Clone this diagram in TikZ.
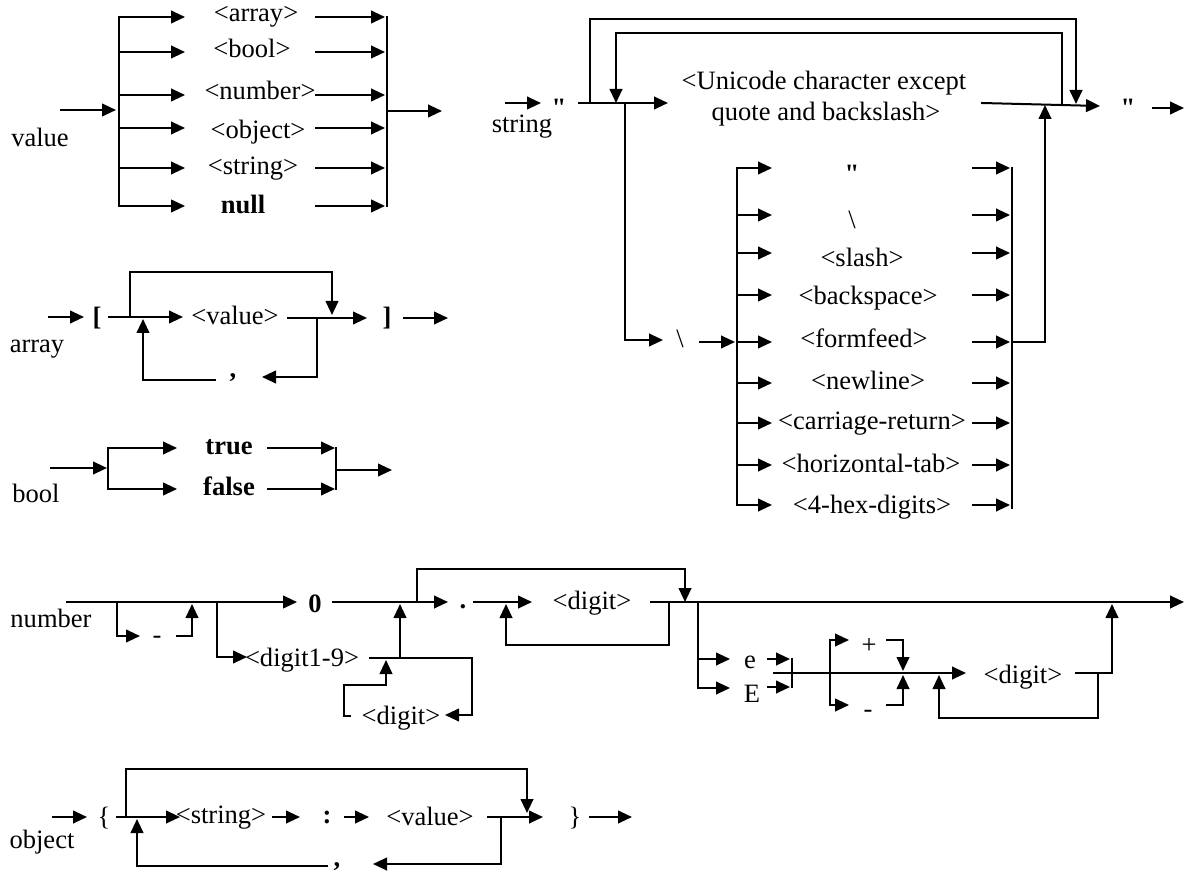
\documentclass[tikz,border=0pt]{standalone}
\usepackage{fontspec}
\setmainfont{Liberation Serif}
\newfontfamily\qfont{Liberation Serif}[Ligatures=TeXOff]
\newcommand{\dq}{{\qfont\bfseries\symbol{34}}}
\usetikzlibrary{arrows.meta}
\begin{document}
\begin{tikzpicture}[x=0.75pt,y=-0.75pt,
  line width=1.5pt, line cap=rect,
  ar/.style={-{Triangle[length=10.5pt,width=9.5pt]}},
  t/.style={anchor=base, inner sep=0pt, font=\fontsize{19.9}{23}\selectfont},
  tb/.style={anchor=base, inner sep=0pt, font=\fontsize{19.9}{23}\selectfont\bfseries}]
\useasboundingbox (0,0) rectangle (1185,880);

% ---------------- value ----------------
\node[t] (vlab) at (40,147) {value};
\draw[ar] (61,110) -- (116,110);
\draw (119,17) -- (119,206);
\draw (387,17) -- (387,206);
\foreach \y/\b/\x/\txt/\nm in {17/22/256/{<array>}/va, 52/58/252/{<bool>}/vb, 95/100/260/{<number>}/vn, 128/139/258/{<object>}/vo, 168/175/253/{<string>}/vs}{
  \draw[ar] (119,\y) -- (185,\y);
  \node[t] (\nm) at (\x,\b) {\txt};
  \draw[ar] (316,\y) -- (385,\y);
}
\draw[ar] (119,206) -- (185,206);
\node[tb] (vnull) at (243,214) {null};
\draw[ar] (316,206) -- (385,206);
\draw[ar] (387,111) -- (442,111);

% ---------------- array ----------------
\node[t] (alab) at (37,353) {array};
\draw[ar] (49,317) -- (84,317);
\node[tb] (aopen) at (97,326) {[};
\draw[ar] (109,317) -- (183,317);
\draw[ar] (130,317) |- (332,272) -- (332,315);
\node[t] (aval) at (235,325) {<value>};
\draw[ar] (288,318) -- (367,318);
\node[tb] (aclose) at (387,326) {]};
\draw[ar] (404,318) -- (448,318);
\draw[ar] (317,318) |- (262,377);
\node[tb] (acomma) at (233,378) {,};
\draw[ar] (215,380) -| (143,319);

% ---------------- bool ----------------
\node[t] (blab) at (36,502) {bool};
\draw[ar] (51,468) -- (107,468);
\draw (108,448) -- (108,489);
\draw[ar] (108,448) -- (177,448);
\draw[ar] (108,489) -- (177,489);
\node[tb] (btrue) at (229,455) {true};
\node[tb] (bfalse) at (229,495) {false};
\draw[ar] (268,448) -- (335,448);
\draw[ar] (268,489) -- (335,489);
\draw (336,448) -- (336,489);
\draw[ar] (336,470) -- (392,470);

% ---------------- string ----------------
\node[t] (slab) at (522,133) {string};
\draw[ar] (506,103) -- (541,103);
\node[t] (sq1) at (559,117) {\dq};
\draw[ar] (579,103) -- (668,103);
\draw[ar] (590,103) |- (1076,19) -- (1076,104);
\draw[ar] (1062,104) |- (616,33) -- (616,103);
\node[t] (su1) at (824,90) {<Unicode character except};
\node[t] (su2) at (826,121) {quote and backslash>};
\draw[ar] (982,103) -- (1100,106);
\node[t] (sq2) at (1128,117) {\dq};
\draw[ar] (1153,108) -- (1184,108);
\draw[ar] (625,103) |- (663,340);
\node[t] (sbs) at (680,348) {\textbackslash};
\draw[ar] (700,342) -- (735,342);
\draw (737,168) -- (737,505);
\draw (1012,168) -- (1012,508);
\foreach \y/\b/\x/\txt/\nm in {
  168/183/852/{\dq}/e1,
  215/229/852/{\textbackslash}/e2,
  253/267/862/{<slash>}/e3,
  295/305/868/{<backspace>}/e4,
  342/348/864/{<formfeed>}/e5,
  383/390/868/{<newline>}/e6,
  423/430/872/{<carriage-return>}/e7,
  465/472/871/{<horizontal-tab>}/e8,
  505/513/872/{<4-hex-digits>}/e9}{
  \draw[ar] (737,\y) -- (772,\y);
  \node[t] (\nm) at (\x,\b) {\txt};
  \draw[ar] (973,\y) -- (1010,\y);
}
\draw[ar] (1012,342) -| (1045,105);

% ---------------- number ----------------
\node[t] (nlab) at (51,627) {number};
\draw[ar] (67,602) -- (297,602);
\node[tb] (nzero) at (315,612) {0};
\draw[ar] (333,602) -- (448,602);
\node[tb] (ndot) at (463,608) {.};
\draw[ar] (117,602) |- (140,636);
\node[t] (nminus) at (157,643) {-};
\draw[ar] (177,636) -| (192,604);
\draw[ar] (217,602) |- (247,657);
\node[t] (nd19) at (302,666) {<digit1-9>};
\draw (370,658) -- (472,658);
\draw[ar] (400,658) -- (400,604);
\draw[ar] (472,658) |- (445,715);
\node[t] (nd1) at (401,724) {<digit>};
\draw[ar] (350,716) -- (344,716) -- (344,685) -- (386,685) -- (386,660);
\draw[ar] (417,602) |- (685,569) -- (685,602);
\draw[ar] (474,602) -- (532,602);
\node[t] (nd2) at (592,609) {<digit>};
\draw[ar] (651,602) -- (1184,602);
\draw[ar] (669,602) |- (506,645) -- (506,604);
\draw (698,602) -- (698,688);
\draw[ar] (698,659) -- (730,659);
\draw[ar] (698,688) -- (730,688);
\node[t] (ne) at (750,668) {e};
\node[t] (nE) at (752,702) {E};
\draw[ar] (768,659) -- (790,659);
\draw[ar] (768,687) -- (790,687);
\draw (792,659) -- (792,687);
\draw[ar] (774,673) -- (966,673);
\draw (830,640) -- (830,705);
\draw[ar] (830,640) -- (849,640);
\draw[ar] (830,705) -- (849,705);
\node[t] (nplus) at (869,653) {+};
\node[t] (nmin2) at (868,717) {-};
\draw[ar] (887,640) -| (903,671);
\draw[ar] (887,705) -| (903,675);
\node[t] (nd3) at (1023,683) {<digit>};
\draw (1076,673) -- (1112,673);
\draw[ar] (1112,673) -- (1112,604);
\draw[ar] (1098,673) |- (939,718) -- (939,675);

% ---------------- object ----------------
\node[t] (olab) at (42,848) {object};
\draw[ar] (53,817) -- (87,817);
\node[t] (oopen) at (104,825) {\{};
\draw[ar] (117,817) -- (180,817);
\draw[ar] (126,817) |- (527,769) -- (527,813);
\node[t] (ostr) at (221,823) {<string>};
\draw[ar] (273,817) -- (300,817);
\node[tb] (ocolon) at (327,823) {:};
\draw[ar] (345,817) -- (369,817);
\node[t] (oval) at (430,825) {<value>};
\draw[ar] (488,817) -- (543,817);
\node[t] (oclose) at (575,825) {\}};
\draw[ar] (590,817) -- (632,817);
\draw[ar] (501,817) |- (373,864);
\node[tb] (ocomma) at (337,866) {,};
\draw[ar] (327,866) -| (137,819);
\end{tikzpicture}
\end{document}
